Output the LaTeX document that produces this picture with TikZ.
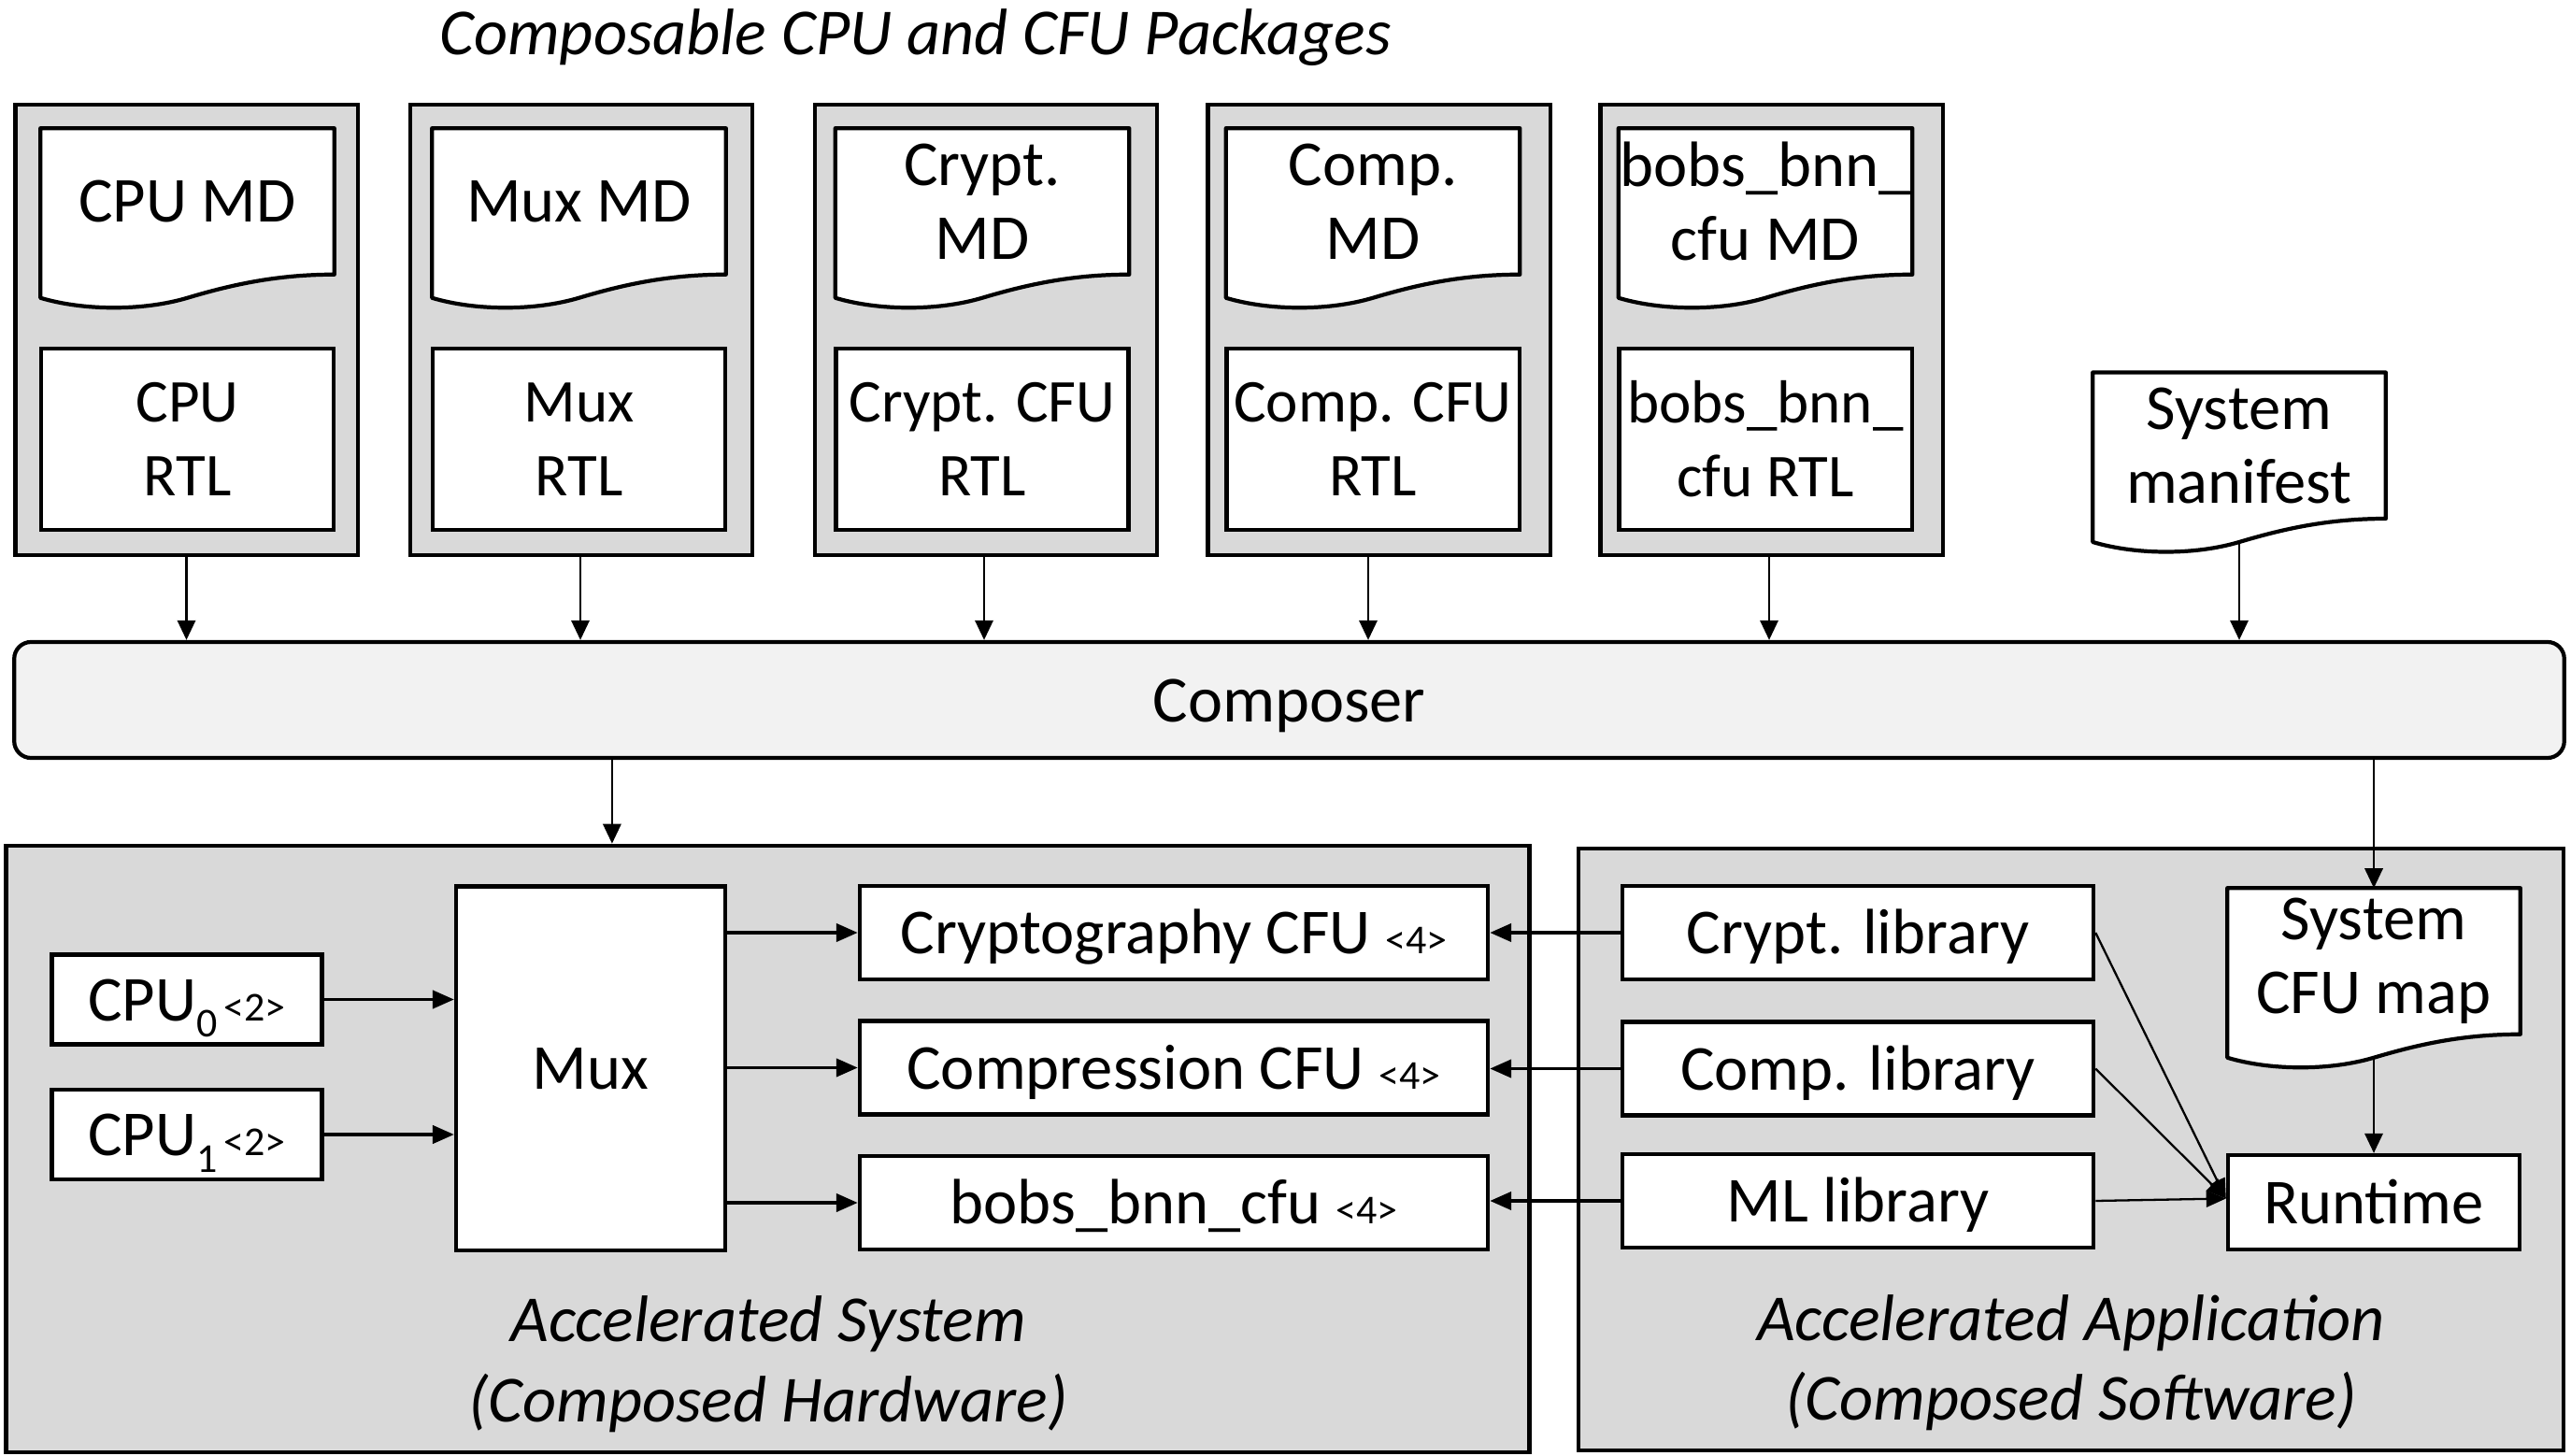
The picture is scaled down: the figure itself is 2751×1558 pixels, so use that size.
\documentclass[tikz,border=0pt]{standalone}
\usepackage{fontspec}
\setmainfont{Carlito}
\usetikzlibrary{arrows.meta,calc}
\definecolor{pkgray}{HTML}{D9D9D9}
\definecolor{compfill}{HTML}{F2F2F2}
\newcommand\docshape[1]{%
  \path[docline] (#1.north west) -- (#1.north east) -- (#1.south east)
    .. controls +(-62,0) and +(47,-14) .. ($(#1.south)+(0,25)$)
    .. controls +(-47,14) and +(47,14) .. ($(#1.south west)+(0,25)$) -- cycle;}
\newcommand\smalltxt[1]{{\fontsize{12.5}{12.5}\selectfont #1}}
\begin{document}
\begin{tikzpicture}[x=0.01cm,y=-0.01cm,
  every node/.style={font=\fontsize{19.5}{22.5}\selectfont, inner sep=0pt},
  gbox/.style={draw, line width=1.2pt, fill=pkgray, rectangle},
  wbox/.style={draw, line width=1.2pt, fill=white, rectangle, align=center},
  rtlbox/.style={wbox, minimum width=3.13cm, minimum height=1.94cm, font=\fontsize{18.5}{22.5}\selectfont},
  docframe/.style={rectangle, minimum width=3.13cm, minimum height=1.55cm},
  doctext/.style={align=center},
  docline/.style={draw, line width=1.2pt, fill=white, line join=round},
  one/.style={text height=16.8pt, text depth=3.9pt},
  arr/.style={-{Triangle[length=6pt,width=5.5pt]}, line width=0.7pt},
  arrb/.style={-{Triangle[length=6.5pt,width=5.5pt]}, line width=0.9pt},
  arrt/.style={-{Triangle[length=6pt,width=5pt]}, line width=0.65pt},
  lbl/.style={font=\fontsize{20}{24}\selectfont\itshape}
]
\useasboundingbox (0,0) rectangle (2751,1558);

% title
\node[lbl, anchor=base] (title) at (979.5,59) {Composable CPU and CFU Packages};

% packages
\foreach \n/\x in {1/199.5, 2/622, 3/1055, 4/1475.5, 5/1895.5}
  \node[gbox, minimum width=3.66cm, minimum height=4.81cm] (pk\n) at (\x,353) {};

% MD documents
\foreach \n/\x/\t in {1/200.5/{CPU MD}, 2/619.5/{Mux MD}, 3/1051/{Crypt.\\MD}, 4/1469/{Comp.\\MD}, 5/1889/{bobs\_bnn\_\\cfu MD}}{
  \node[docframe] (md\n) at (\x,215.5) {};
  \docshape{md\n}
  \node[doctext] (md\n t) at (md\n.center) {\t};
}

% RTL boxes
\node[rtlbox] (rtl1) at (200.5,470) {CPU\\RTL};
\node[rtlbox] (rtl2) at (619.5,470) {Mux\\RTL};
\node[rtlbox] (rtl3) at (1051,470) {Crypt. CFU\\RTL};
\node[rtlbox] (rtl4) at (1469,470) {Comp. CFU\\RTL};
\node[rtlbox] (rtl5) at (1889,470) {bobs\_bnn\_\\cfu RTL};

% system manifest
\node[docframe, minimum width=3.12cm] (man) at (2396,476.75) {};
\docshape{man}
\node[doctext] (mant) at (man.center) {System\\manifest};

% composer
\node[draw, line width=1.2pt, fill=compfill, rounded corners=0.18cm,
      minimum width=27.27cm, minimum height=1.24cm, text height=17.2pt, text depth=4pt,
      font=\fontsize{20}{24}\selectfont] (composer) at (1379.5,749) {Composer};

% arrows into composer
\draw[arr] (pk1.south) -- (pk1.south |- composer.north);
\draw[arr] ([xshift=-0.01cm]pk2.south) -- ([xshift=-0.01cm]pk2.south |- composer.north);
\draw[arr] ([xshift=-0.02cm]pk3.south) -- ([xshift=-0.02cm]pk3.south |- composer.north);
\draw[arr] ([xshift=-0.115cm]pk4.south) -- ([xshift=-0.115cm]pk4.south |- composer.north);
\draw[arr] ([xshift=-0.025cm]pk5.south) -- ([xshift=-0.025cm]pk5.south |- composer.north);
\draw[arr] ($(man.south)+(0,25)$) -- (man.south |- composer.north);

% lower containers
\node[gbox, minimum width=16.29cm, minimum height=6.49cm] (sys) at (821.5,1229.5) {};
\node[gbox, minimum width=10.54cm, minimum height=6.435cm] (app) at (2216,1230.25) {};

% composer outputs
\coordinate (s1) at ([xshift=-1.665cm]sys.north);
\draw[arr] (s1 |- composer.south) -- (s1);

% hardware side
\node[wbox, minimum width=2.89cm, minimum height=0.96cm, one] (cpu0) at (200,1069.5)
  {CPU\raisebox{-5pt}{\smalltxt{0}}\hspace{2pt}\smalltxt{<2>}};
\node[wbox, minimum width=2.89cm, minimum height=0.96cm, one] (cpu1) at (200,1214)
  {CPU\raisebox{-5pt}{\smalltxt{1}}\hspace{2pt}\smalltxt{<2>}};
\node[wbox, minimum width=2.88cm, minimum height=3.895cm, one] (mux) at (632,1143.25) {Mux};

\node[wbox, minimum width=6.72cm, minimum height=1.0cm, one] (cfu1) at (1256,998) {Cryptography CFU \smalltxt{<4>}};
\node[wbox, minimum width=6.72cm, minimum height=1.0cm, one] (cfu2) at (1256,1142.5) {Compression CFU \smalltxt{<4>}};
\node[wbox, minimum width=6.72cm, minimum height=1.0cm, one] (cfu3) at (1256,1287) {bobs\_bnn\_cfu \smalltxt{<4>}};

\draw[arrb] (cpu0.east) -- (cpu0.east -| mux.west);
\draw[arrb] (cpu1.east) -- (cpu1.east -| mux.west);
\draw[arrb] (mux.east |- cfu1.west) -- (cfu1.west);
\draw[arrb] (mux.east |- cfu2.west) -- (cfu2.west);
\draw[arrb] (mux.east |- cfu3.west) -- (cfu3.west);

% software side
\node[wbox, minimum width=5.04cm, minimum height=1.0cm, one] (lib1) at (1988,998) {Crypt. library};
\node[wbox, minimum width=5.04cm, minimum height=1.0cm, one] (lib2) at (1988,1143.5) {Comp. library};
\node[wbox, minimum width=5.04cm, minimum height=1.0cm, one] (lib3) at (1988,1285) {ML library};

\node[docframe, minimum width=3.12cm] (cmap) at (2540,1028.5) {};
\docshape{cmap}
\node[doctext] (cmapt) at (cmap.center) {System\\CFU map};
\node[wbox, minimum width=3.12cm, minimum height=1.01cm, one] (runtime) at (2540,1286.5) {Runtime};

\draw[arr] (cmap.north |- composer.south) -- (cmap.north);
\draw[arr] ($(cmap.south)+(0,25)$) -- (runtime.north);

\draw[arrb] (lib1.west) -- (lib1.west -| cfu1.east);
\draw[arrb] (lib2.west) -- (lib2.west -| cfu2.east);
\draw[arrb] (lib3.west) -- (lib3.west -| cfu3.east);

\coordinate (rtin) at ($(runtime.west)+(0,-4)$);
\draw[arrt] (lib1.east) -- (rtin);
\draw[arrt] (lib2.east) -- (rtin);
\draw[arrt] (lib3.east) -- (rtin);

% container labels
\node[lbl, anchor=base] (sysl1) at (822,1435) {Accelerated System};
\node[lbl, anchor=base] (sysl2) at (822,1521) {(Composed Hardware)};
\node[lbl, anchor=base] (appl1) at (2216,1434) {Accelerated Application};
\node[lbl, anchor=base] (appl2) at (2216,1519) {(Composed Software)};
\end{tikzpicture}
\end{document}
